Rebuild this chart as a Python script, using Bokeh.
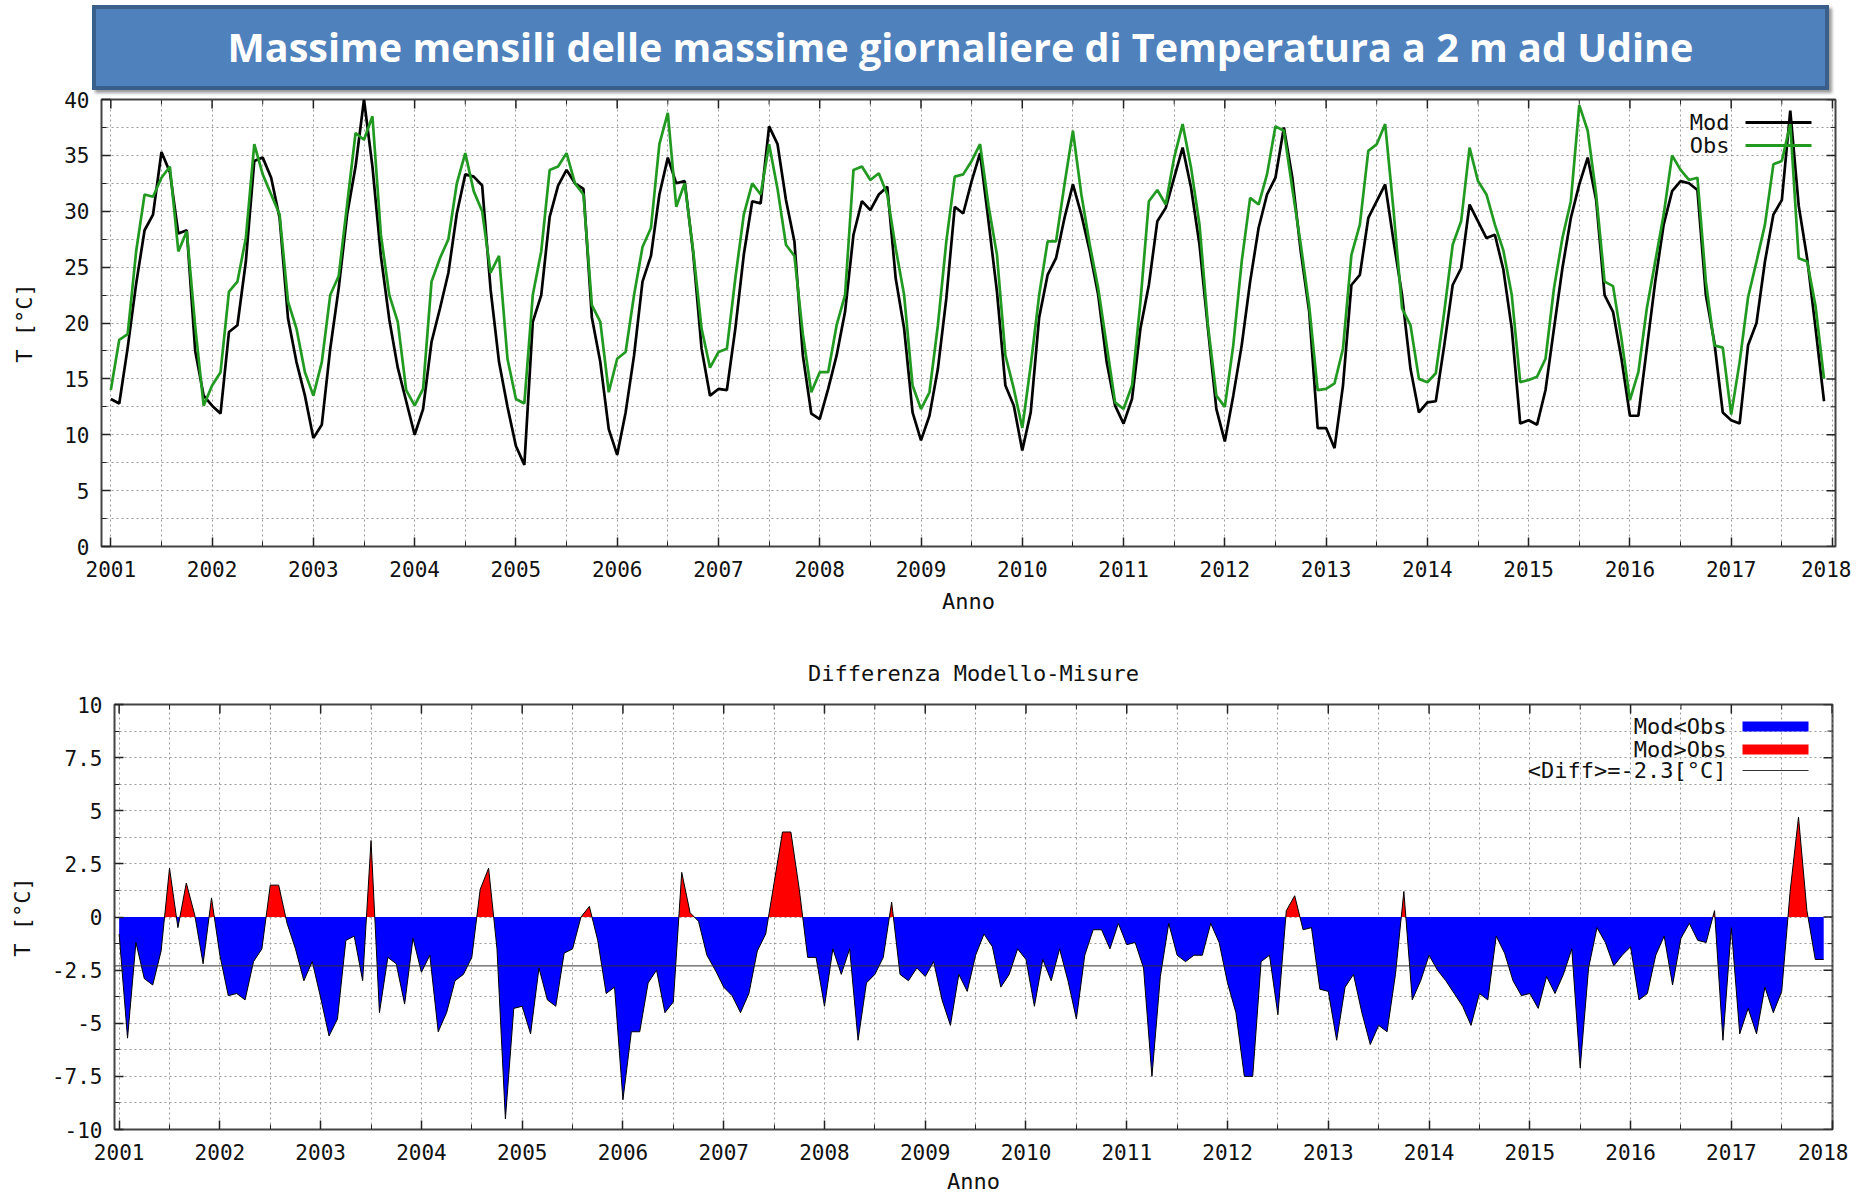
import numpy as np
from bokeh.plotting import figure
from bokeh.models import Range1d, FixedTicker, Label, BoxAnnotation, Span, Div
from bokeh.embed import file_html
from bokeh.resources import INLINE

# ---------------- data ----------------
start_year = 2001
year_ticks = list(range(2001, 2019))
half_year_ticks = [y + 0.5 for y in range(2001, 2018)]
top_yticks = list(range(0, 45, 5))
top_yminor = [2.5 + 5 * i for i in range(8)]
bot_yticks = [-10, -7.5, -5, -2.5, 0, 2.5, 5, 7.5, 10]
bot_yminor = [-8.75 + 2.5 * i for i in range(8)]

# Monthly maxima of daily max temperature (Mod = model, Obs = observations), Jan 2001 .. Dec 2017
mod = [
    13.2, 12.8, 17.8, 23.5, 28.3, 29.7, 35.3, 33.5, 28.0, 28.3, 17.5, 13.5,   # 2001
    12.6, 11.9, 19.2, 19.8, 25.5, 34.5, 34.8, 33.0, 29.4, 20.4, 16.5, 13.5,   # 2002
    9.7, 10.9, 17.7, 23.1, 29.7, 34.0, 40.0, 34.0, 26.0, 20.3, 16.0, 13.0,    # 2003
    10.0, 12.3, 18.3, 21.3, 24.5, 29.8, 33.3, 33.1, 32.3, 23.0, 16.5, 12.5,   # 2004
    9.0, 7.3, 20.1, 22.5, 29.5, 32.3, 33.7, 32.5, 32.0, 20.5, 16.5, 10.5,     # 2005
    8.2, 12.0, 17.1, 23.7, 26.0, 31.5, 34.8, 32.5, 32.7, 26.3, 17.7, 13.5,    # 2006
    14.1, 14.0, 19.5, 26.1, 30.9, 30.7, 37.6, 36.0, 31.0, 27.3, 17.1, 11.9,   # 2007
    11.4, 14.1, 17.1, 21.0, 27.9, 30.9, 30.1, 31.5, 32.2, 24.0, 19.5, 12.0,   # 2008
    9.5, 11.7, 15.9, 22.2, 30.4, 29.8, 32.7, 35.2, 29.1, 22.8, 14.4, 12.6,    # 2009
    8.6, 12.0, 20.5, 24.3, 25.8, 29.4, 32.4, 29.7, 26.4, 22.5, 16.5, 12.6,    # 2010
    11.0, 13.2, 19.5, 23.4, 29.1, 30.3, 33.0, 35.7, 32.1, 27.0, 19.5, 12.3,   # 2011
    9.4, 13.5, 18.0, 23.7, 28.5, 31.5, 33.0, 37.5, 33.0, 26.4, 21.0, 10.6,    # 2012
    10.6, 8.8, 14.4, 23.4, 24.3, 29.4, 30.9, 32.4, 27.3, 22.5, 15.9, 12.0,    # 2013
    12.9, 13.0, 18.0, 23.4, 24.9, 30.6, 29.1, 27.6, 27.9, 24.8, 19.5, 11.0,   # 2014
    11.3, 10.9, 14.0, 19.5, 24.9, 29.4, 32.4, 34.8, 31.0, 22.5, 21.0, 16.8,   # 2015
    11.7, 11.7, 17.7, 23.7, 28.8, 31.8, 32.7, 32.5, 31.9, 22.5, 18.3, 12.0,   # 2016
    11.3, 11.0, 18.0, 20.0, 25.5, 29.7, 31.0, 39.0, 30.5, 25.8, 19.5, 13.0,   # 2017
]
obs = [
    14.0, 18.5, 19.0, 26.4, 31.5, 31.3, 33.0, 34.0, 26.4, 28.2, 19.7, 12.6,   # 2001
    14.4, 15.6, 22.8, 23.7, 27.6, 36.0, 33.3, 31.5, 29.7, 21.9, 19.5, 15.6,   # 2002
    13.5, 16.5, 22.5, 24.2, 30.6, 37.0, 36.4, 38.5, 27.9, 22.5, 20.1, 14.0,   # 2003
    12.6, 14.1, 23.7, 25.8, 27.5, 32.5, 35.2, 31.8, 30.0, 24.5, 26.0, 16.8,   # 2004
    13.2, 12.8, 22.5, 26.4, 33.7, 34.0, 35.2, 32.5, 31.5, 21.6, 20.1, 13.8,   # 2005
    16.8, 17.4, 22.5, 26.8, 28.5, 36.0, 38.8, 30.4, 32.5, 26.5, 19.5, 16.0,   # 2006
    17.4, 17.7, 24.0, 29.7, 32.5, 31.5, 36.0, 32.0, 27.0, 26.0, 19.0, 13.8,   # 2007
    15.6, 15.6, 19.8, 22.5, 33.7, 34.0, 32.8, 33.4, 31.5, 26.7, 22.5, 14.4,   # 2008
    12.3, 13.8, 19.8, 27.3, 33.1, 33.3, 34.5, 36.0, 30.5, 26.1, 17.1, 14.1,   # 2009
    10.6, 16.2, 22.5, 27.3, 27.3, 32.4, 37.2, 31.5, 27.0, 23.1, 18.0, 12.9,   # 2010
    12.3, 14.4, 21.9, 30.9, 31.9, 30.6, 34.8, 37.8, 33.9, 28.8, 19.8, 13.5,   # 2011
    12.5, 18.0, 25.5, 31.2, 30.6, 33.3, 37.6, 37.2, 32.0, 27.0, 21.5, 14.0,   # 2012
    14.1, 14.6, 17.7, 26.1, 28.8, 35.4, 36.0, 37.8, 30.0, 21.3, 19.8, 15.0,   # 2013
    14.7, 15.5, 21.0, 27.0, 29.1, 35.7, 32.7, 31.5, 28.8, 26.5, 22.5, 14.7,   # 2014
    14.9, 15.2, 16.8, 23.1, 27.6, 30.9, 39.5, 37.2, 31.5, 23.7, 23.3, 18.6,   # 2015
    13.1, 15.6, 21.3, 25.5, 29.7, 35.0, 33.7, 32.8, 33.0, 23.7, 18.0, 17.8,   # 2016
    11.8, 16.5, 22.3, 25.5, 28.8, 34.2, 34.5, 37.8, 25.8, 25.5, 21.5, 15.0,   # 2017
]
mean_diff = -2.3   # value printed in the legend

# ---------------- styling constants ----------------
FONT = "DejaVu Sans Mono"
TICK_SIZE = "21px"
LEG_SIZE = "22px"
LAB_SIZE = "22px"
GRID_COLOR = "#9a9a9a"
TICK_COLOR = "#222222"
BLACK = "#000000"
GREEN = "#229a22"

x = start_year + np.arange(len(mod)) / 12.0
mod_a = np.array(mod)
obs_a = np.array(obs)
diff = mod_a - obs_a


def style(p, yticks, yminor, ylabels, fw, fh):
    xax = p.below[0]
    yax = p.left[0]
    xax.ticker = FixedTicker(ticks=year_ticks, minor_ticks=half_year_ticks)
    yax.ticker = FixedTicker(ticks=yticks, minor_ticks=yminor)
    yax.major_label_overrides = ylabels
    for ax in (xax, yax):
        ax.axis_line_color = None
        ax.major_tick_in = 9
        ax.major_tick_out = 0
        ax.minor_tick_in = 5
        ax.minor_tick_out = 0
        ax.major_tick_line_color = TICK_COLOR
        ax.minor_tick_line_color = TICK_COLOR
        ax.major_tick_line_width = 1.5
        ax.major_label_text_font = FONT
        ax.major_label_text_font_size = TICK_SIZE
        ax.major_label_text_color = "#111111"
        ax.axis_label_text_font = FONT
        ax.axis_label_text_font_style = "normal"
        ax.axis_label_text_font_size = LAB_SIZE
        ax.axis_label_text_color = "#111111"
    for g in (p.xgrid, p.ygrid):
        g.grid_line_color = GRID_COLOR
        g.grid_line_dash = "2 3"
        g.grid_line_width = 1
        g.minor_grid_line_color = GRID_COLOR
        g.minor_grid_line_dash = "2 3"
        g.minor_grid_line_width = 1
    p.outline_line_color = "#444444"
    p.outline_line_width = 2
    p.background_fill_color = "#ffffff"
    p.border_fill_color = None
    # mirrored tick marks on the top and right edges (gnuplot style)
    x0, x1 = p.x_range.start, p.x_range.end
    y0, y1 = p.y_range.start, p.y_range.end
    dy = (y1 - y0) / fh
    dx = (x1 - x0) / fw
    p.segment(x0=year_ticks, x1=year_ticks, y0=[y1] * len(year_ticks),
              y1=[y1 - 9 * dy] * len(year_ticks), line_color=TICK_COLOR, line_width=1.5)
    p.segment(x0=half_year_ticks, x1=half_year_ticks, y0=[y1] * len(half_year_ticks),
              y1=[y1 - 5 * dy] * len(half_year_ticks), line_color=TICK_COLOR, line_width=1)
    p.segment(x0=[x1] * len(yticks), x1=[x1 - 9 * dx] * len(yticks), y0=yticks, y1=yticks,
              line_color=TICK_COLOR, line_width=1.5)
    p.segment(x0=[x1] * len(yminor), x1=[x1 - 5 * dx] * len(yminor), y0=yminor, y1=yminor,
              line_color=TICK_COLOR, line_width=1)


def legend_text(p, sx, sy, text):
    p.add_layout(Label(x=sx, y=sy, x_units="screen", y_units="screen", text=text,
                       text_align="right", text_baseline="middle", text_font=FONT,
                       text_font_size=LEG_SIZE, text_color="#111111"))


def legend_box(p, x0, x1, yc, h, color):
    p.add_layout(BoxAnnotation(left=x0, right=x1, bottom=yc - h / 2, top=yc + h / 2,
                               left_units="screen", right_units="screen",
                               bottom_units="screen", top_units="screen",
                               fill_color=color, fill_alpha=1, line_color=None))


# ---------------- banner ----------------
banner = Div(
    width=1850, height=76, styles={"overflow": "visible"},
    text=('<div style="box-sizing:border-box;margin-left:87px;margin-top:0px;width:1737px;'
          'height:85px;line-height:77px;overflow:visible;'
          'background:#4F81BD;border:4px solid #3A5F8B;box-shadow:3px 3px 3px #9a9a9a;'
          'color:#ffffff;font-family:\'Open Sans\';font-weight:bold;font-size:39.5px;'
          'text-align:center;white-space:nowrap;">'
          'Massime mensili delle massime giornaliere di Temperatura a 2 m ad Udine</div>'))

# ---------------- top chart ----------------
FW1, FH1 = 1734, 447
p1 = figure(frame_width=FW1, frame_height=FH1, x_range=Range1d(2000.908, 2018.03),
            y_range=Range1d(0, 40), toolbar_location=None, output_backend="svg",
            min_border_left=101, min_border_right=16, min_border_top=13, min_border_bottom=94)
style(p1, top_yticks, top_yminor, {}, FW1, FH1)
p1.below[0].axis_label = "Anno"
p1.left[0].axis_label = "T [°C]"
p1.below[0].major_label_standoff = 14
p1.below[0].axis_label_standoff = 9
p1.left[0].major_label_standoff = 12
p1.left[0].axis_label_standoff = 24
p1.line(x, mod_a, line_color=BLACK, line_width=2.7)
p1.line(x, obs_a, line_color=GREEN, line_width=2.7)
legend_text(p1, 1628, 424, "Mod")
legend_box(p1, 1644, 1710, 424, 3, BLACK)
legend_text(p1, 1628, 401, "Obs")
legend_box(p1, 1644, 1710, 401, 3, GREEN)

# ---------------- bottom chart ----------------
xs = [x[0]]
ys = [diff[0]]
for i in range(1, len(diff)):
    if diff[i - 1] * diff[i] < 0:
        t = diff[i - 1] / (diff[i - 1] - diff[i])
        xs.append(x[i - 1] + t * (x[i] - x[i - 1]))
        ys.append(0.0)
    xs.append(x[i])
    ys.append(diff[i])
xs = np.array(xs)
ys = np.array(ys)

FW2, FH2 = 1718, 425
p2 = figure(frame_width=FW2, frame_height=FH2, x_range=Range1d(2000.954, 2018.004),
            y_range=Range1d(-10, 10), toolbar_location=None, output_backend="svg",
            min_border_left=114, min_border_right=16, min_border_top=64, min_border_bottom=56)
ylab2 = {v: (str(int(v)) if float(v).is_integer() else str(v)) for v in bot_yticks}
style(p2, bot_yticks, bot_yminor, ylab2, FW2, FH2)
p2.title.text = "Differenza Modello-Misure"
p2.title.align = "center"
p2.title.text_font = FONT
p2.title.text_font_style = "normal"
p2.title.text_font_size = LAB_SIZE
p2.title.text_color = "#111111"
p2.title.standoff = 37
p2.below[0].axis_label = "Anno"
p2.left[0].axis_label = "T [°C]"
p2.below[0].major_label_standoff = 14
p2.below[0].axis_label_standoff = 6
p2.left[0].major_label_standoff = 12
p2.left[0].axis_label_standoff = 14
p2.varea(x=xs, y1=0, y2=np.minimum(ys, 0), fill_color="#0000ff")
p2.varea(x=xs, y1=0, y2=np.maximum(ys, 0), fill_color="#ff0000")
p2.line(xs, ys, line_color=BLACK, line_width=1)
p2.add_layout(Span(location=mean_diff, dimension="width", line_color="#333333", line_width=1))
legend_text(p2, 1612, 403, "Mod<Obs")
legend_box(p2, 1628, 1694, 403, 10, "#0000ff")
legend_text(p2, 1612, 380, "Mod>Obs")
legend_box(p2, 1628, 1694, 380, 10, "#ff0000")
legend_text(p2, 1612, 359, "<Diff>=-2.3[°C]")
legend_box(p2, 1628, 1694, 359, 1, "#333333")

open("out.html", "w").write(file_html([banner, p1, p2], INLINE))
print("mean diff", diff.mean())
